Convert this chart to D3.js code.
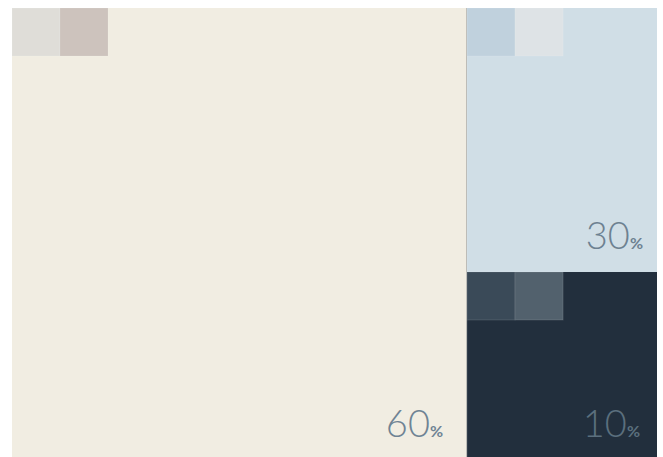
<!DOCTYPE html>
<html>
<head>
<meta charset="utf-8">
<script src="https://cdn.jsdelivr.net/npm/d3@7"></script>
<style>
  html, body { margin: 0; padding: 0; background: #fff; }
  svg { display: block; }
</style>
</head>
<body>
<svg id="chart" width="663" height="457"></svg>
<script>
// 60-30-10 colour split
const shares = [60, 30, 10];
const shareNames = ["dominant", "secondary", "accent"];
const baseColors = ["#f1ede2", "#d0dee6", "#222f3d"];
const swatchColors = [
    ["#dfddd8", "#cdc3bd"],
    ["#c0d1dd", "#dee3e6"],
    ["#3a4a58", "#52616d"]
];
const labelColors = ["#6f8394", "#6d8191", "#5b6f7e"];

const svg = d3.select("#chart");

const x = d3.scaleLinear().domain([0, 1]).range([12, 657]);
const y = d3.scaleLinear().domain([0, 1]).range([8, 457]);

// left column holds the 60, right column is split between 30 and 10
const colSplit = 0.704;
const rowSplit = 0.588;

const cells = [
    { x0: x(0), x1: x(colSplit), y0: y(0), y1: y(1) },
    { x0: x(colSplit) + 1, x1: x(1), y0: y(0), y1: y(rowSplit) },
    { x0: x(colSplit) + 1, x1: x(1), y0: y(rowSplit), y1: y(1) }
];
const labelPad = [23, 14, 17];
const labelLift = [20, 23, 20];

const data = shares.map((v, i) => ({ value: v, name: shareNames[i], ...cells[i], i }));

// thin divider behind the cells
svg.append("rect")
    .attr("x", x(colSplit))
    .attr("y", y(0))
    .attr("width", 1)
    .attr("height", y(1) - y(0))
    .attr("fill", "#b4b3ad");

const cell = svg.selectAll(".cell")
    .data(data)
    .enter()
    .append("g")
    .attr("class", "cell");

cell.append("rect")
    .attr("x", d => d.x0)
    .attr("y", d => d.y0)
    .attr("width", d => d.x1 - d.x0)
    .attr("height", d => d.y1 - d.y0)
    .attr("fill", d => baseColors[d.i]);

// two little shade swatches in each corner
const sw = 48;
cell.selectAll(".swatch")
    .data(d => swatchColors[d.i].map((c, j) => ({ c, j, p: d })))
    .enter()
    .append("rect")
    .attr("class", "swatch")
    .attr("x", s => s.p.x0 + s.j * sw)
    .attr("y", s => s.p.y0)
    .attr("width", sw)
    .attr("height", sw)
    .attr("fill", s => s.c)
    .attr("stroke", "rgba(255,255,255,0.12)")
    .attr("stroke-width", 1);

const label = cell.append("text")
    .attr("x", d => d.x1 - labelPad[d.i])
    .attr("y", d => d.y1 - labelLift[d.i])
    .attr("text-anchor", "end")
    .style("font-family", "Lato, 'Open Sans', sans-serif")
    .style("fill", d => labelColors[d.i]);

label.append("tspan")
    .style("font-size", "38px")
    .style("font-weight", 300)
    .text(d => d.value);

label.append("tspan")
    .style("font-size", "16px")
    .style("font-weight", 700)
    .text("%");
</script>
</body>
</html>
